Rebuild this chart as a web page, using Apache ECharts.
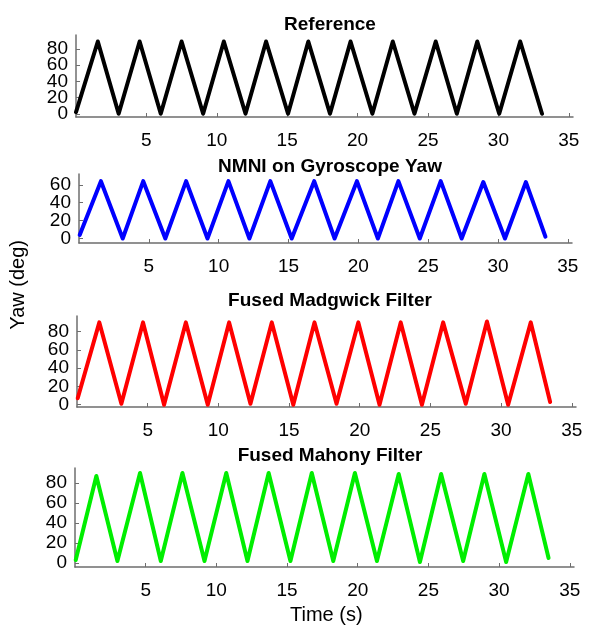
<!DOCTYPE html>
<html>
<head>
<meta charset="utf-8">
<script src="https://cdn.jsdelivr.net/npm/echarts@6/dist/echarts.min.js"></script>
<style>
  html, body { margin: 0; padding: 0; background: #fff; }
  #chart { width: 589px; height: 628px; }
</style>
</head>
<body>
<div id="chart"></div>
<script>
// vertices of each yaw trace (time in s, yaw in deg)
const refTime = [0, 1.55, 3.03, 4.52, 6.02, 7.5, 9.03, 10.5, 12.04, 13.5, 15.06, 16.5, 18.04, 19.5, 21.05, 22.5, 24.04, 25.55, 27.05, 28.5, 30.06, 31.55, 33.1];
const refYaw = [2, 89, 0, 89, 0, 89, 0, 89, 0, 89, 0, 89, 0, 89, 0, 89, 0, 89, 0, 89, 0, 89, 0];

const nmniTime = [0.05, 1.57, 3.13, 4.6, 6.18, 7.67, 9.2, 10.7, 12.2, 13.7, 15.23, 16.84, 18.3, 19.9, 21.4, 22.87, 24.4, 25.9, 27.4, 28.95, 30.5, 32.0, 33.4];
const nmniYaw = [4, 64, 0, 64, 0, 64, 0, 64, 0, 64, 0, 64, 0, 64, 0, 64, 0, 64, 0, 63, 0, 63, 2];

const madgTime = [0.05, 1.58, 3.14, 4.67, 6.16, 7.7, 9.25, 10.76, 12.27, 13.78, 15.3, 16.8, 18.36, 19.9, 21.4, 22.9, 24.4, 25.9, 27.5, 29.0, 30.5, 32.1, 33.47];
const madgYaw = [7, 90, 1, 90, 0, 90, 0, 90, 1, 90, 0, 90, 1, 90, 0, 90, 0, 90, 1, 91, 0, 90, 3];

const mahoTime = [0.05, 1.51, 3.0, 4.6, 6.07, 7.6, 9.16, 10.7, 12.2, 13.7, 15.24, 16.75, 18.27, 19.8, 21.36, 22.9, 24.4, 25.9, 27.46, 28.96, 30.5, 32.07, 33.5];
const mahoYaw = [3, 87, 2, 90, 2, 90, 2, 90, 2, 90, 2, 90, 2, 90, 2, 89, 1, 89, 2, 89, 1, 89, 5];

const xTicks = [5, 10, 15, 20, 25, 30, 35];
const yTicks = [0, 20, 40, 60, 80];
const yTicksNmni = [0, 20, 40, 60];

const titles = ['Reference', 'NMNI on Gyroscope Yaw', 'Fused Madgwick Filter', 'Fused Mahony Filter'];

const FONT = 'Liberation Sans, Arial, sans-serif';
const AXIS_COLOR = '#6e6e6e';

const panels = [
  { time: refTime, yaw: refYaw, color: '#000000', left: 76, right: 16, top: 35, height: 82, yMin: -4, yMax: 97, ticks: yTicks, titleTop: 10 },
  { time: nmniTime, yaw: nmniYaw, color: '#0000ff', left: 79, right: 17, top: 174, height: 69, yMin: -5, yMax: 72, ticks: yTicksNmni, titleTop: 152 },
  { time: madgTime, yaw: madgYaw, color: '#ff0000', left: 77, right: 13, top: 316, height: 91, yMin: -2.5, yMax: 97, ticks: yTicks, titleTop: 286 },
  { time: mahoTime, yaw: mahoYaw, color: '#00ee00', left: 75, right: 15, top: 468, height: 99, yMin: -4, yMax: 95, ticks: yTicks, titleTop: 441 }
];

const chart = echarts.init(document.getElementById('chart'), null, { renderer: 'canvas' });

// labels are split over two stacked axes per panel so tightly packed ones are not hidden
const labelStyle = {
  show: true,
  hideOverlap: false,
  margin: 8,
  color: '#000',
  fontFamily: FONT,
  fontSize: 19
};

const yAxes = [];
panels.forEach((p, i) => {
  yAxes.push({
    type: 'value',
    gridIndex: i,
    min: p.yMin,
    max: p.yMax,
    splitLine: { show: false },
    axisLine: { show: true, onZero: false, lineStyle: { color: AXIS_COLOR, width: 1.5 } },
    axisTick: { show: true, inside: true, length: 4, customValues: p.ticks, lineStyle: { color: AXIS_COLOR } },
    axisLabel: Object.assign({ customValues: p.ticks.filter((v, k) => k % 2 === 0) }, labelStyle)
  });
  yAxes.push({
    type: 'value',
    gridIndex: i,
    position: 'left',
    offset: 0,
    min: p.yMin,
    max: p.yMax,
    splitLine: { show: false },
    axisLine: { show: false },
    axisTick: { show: false },
    axisLabel: Object.assign({ customValues: p.ticks.filter((v, k) => k % 2 === 1) }, labelStyle)
  });
});

const option = {
  backgroundColor: '#ffffff',
  animation: false,
  title: panels.map((p, i) => ({
    text: titles[i],
    left: 325,
    textAlign: 'center',
    top: p.titleTop,
    textStyle: { fontFamily: FONT, fontSize: 19, fontWeight: 'bold', color: '#000' }
  })),
  grid: panels.map(p => ({
    left: p.left,
    right: p.right,
    top: p.top,
    height: p.height,
    containLabel: false
  })),
  xAxis: panels.map((p, i) => ({
    type: 'value',
    gridIndex: i,
    min: 0,
    max: 35.3,
    splitLine: { show: false },
    axisLine: { show: true, onZero: false, lineStyle: { color: AXIS_COLOR, width: 1.5 } },
    axisTick: { show: true, inside: true, length: 4, customValues: xTicks, lineStyle: { color: AXIS_COLOR } },
    axisLabel: {
      show: true,
      customValues: xTicks,
      hideOverlap: false,
      margin: 14,
      color: '#000',
      fontFamily: FONT,
      fontSize: 19
    }
  })),
  yAxis: yAxes,
  series: panels.map((p, i) => ({
    type: 'line',
    xAxisIndex: i,
    yAxisIndex: i * 2,
    data: p.time.map((t, k) => [t, p.yaw[k]]),
    showSymbol: false,
    lineStyle: { color: p.color, width: 4, join: 'round', cap: 'round' },
    itemStyle: { color: p.color }
  })),
  graphic: [
    {
      type: 'text',
      left: 8,
      top: 240,
      rotation: Math.PI / 2,
      style: { text: 'Yaw (deg)', font: '20px ' + FONT, fill: '#000' }
    },
    {
      type: 'text',
      left: 290,
      top: 605,
      style: { text: 'Time (s)', font: '20px ' + FONT, fill: '#000' }
    }
  ]
};

chart.setOption(option);
</script>
</body>
</html>
